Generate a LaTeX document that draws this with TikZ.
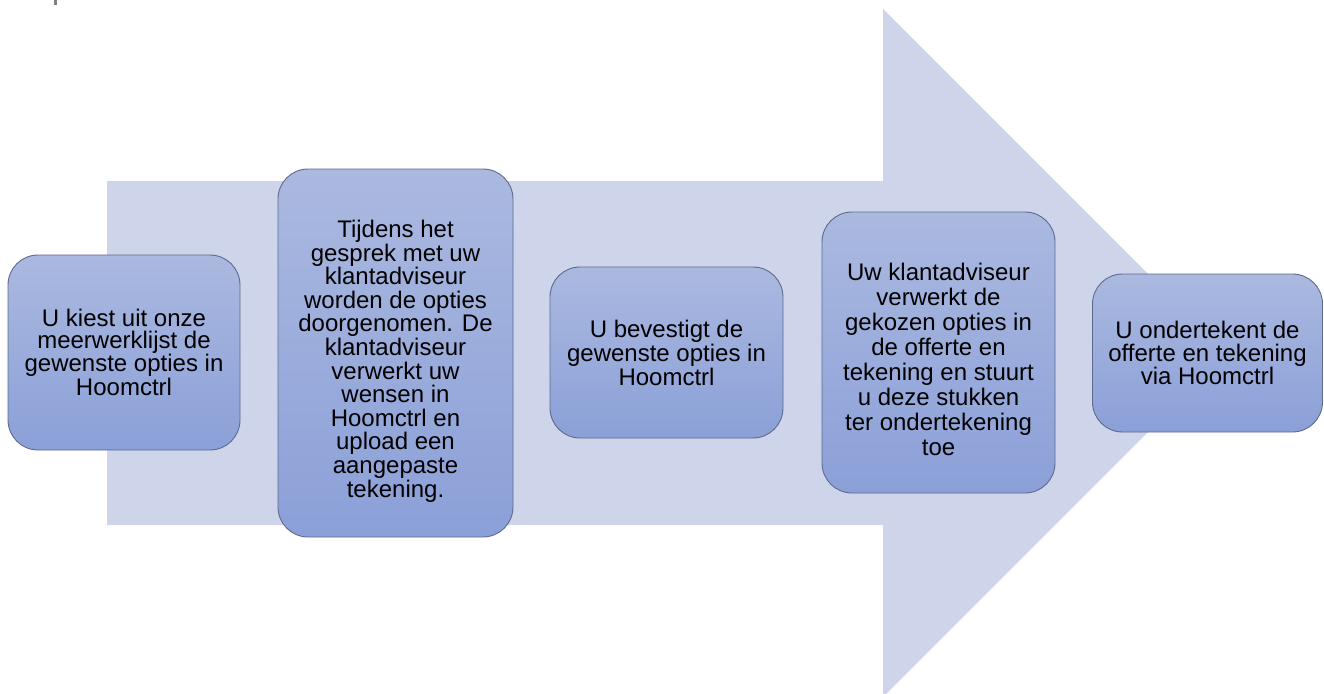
\documentclass[tikz,border=0pt]{standalone}
\usepackage{fontspec}
\setmainfont{Liberation Sans}
\definecolor{pijlkleur}{HTML}{CED5EA}
\definecolor{staptop}{HTML}{ABB9E0}
\definecolor{stapbodem}{HTML}{8BA0D8}
\definecolor{staprand}{HTML}{5E6A8C}
\begin{document}
\begin{tikzpicture}[x=1pt, y=-1pt,
 stap/.style={shape=rectangle, rounded corners=30pt, draw=staprand, line width=0.9pt,
   top color=staptop, bottom color=stapbodem, inner sep=0pt, align=center,
   font=\fontsize{24}{#1}\selectfont},
 stap/.default=23,
]
\useasboundingbox (0,0) rectangle (1324,693);
\clip (0,0) rectangle (1324,693);

%mark top left
\fill[gray] (54,0) rectangle (57,5);

%big arrow
\fill[pijlkleur] (107,181) -- (883,181) -- (883,9) -- (1227,353)
 -- (883,697) -- (883,525) -- (107,525) -- cycle;

%steps
\node (s1) at (124,352.5) [stap=21.7, minimum width=232pt, minimum height=195pt]
 {U kiest uit onze\\meerwerklijst de\\gewenste opties in\\Hoomctrl};
\node (s2) at (395.5,353) [stap=23.6, minimum width=235pt, minimum height=368pt]
 {\rule{0pt}{33.5pt}Tijdens het\\gesprek met uw\\klantadviseur\\worden de opties\\doorgenomen. De\\klantadviseur\\verwerkt uw\\wensen in\\Hoomctrl en\\upload een\\aangepaste\\tekening.};
\node (s3) at (666.5,352.5) [stap=24, minimum width=233pt, minimum height=171pt]
 {U bevestigt de\\gewenste opties in\\Hoomctrl};
\node (s4) at (938.5,352.5) [stap=25, minimum width=233pt, minimum height=281pt]
 {\rule{0pt}{31.5pt}Uw klantadviseur\\verwerkt de\\gekozen opties in\\de offerte en\\tekening en stuurt\\u deze stukken\\ter ondertekening\\toe};
\node (s5) at (1207.5,353) [stap=23, minimum width=230pt, minimum height=158pt]
 {U ondertekent de\\offerte en tekening\\via Hoomctrl};

\end{tikzpicture}
\end{document}
